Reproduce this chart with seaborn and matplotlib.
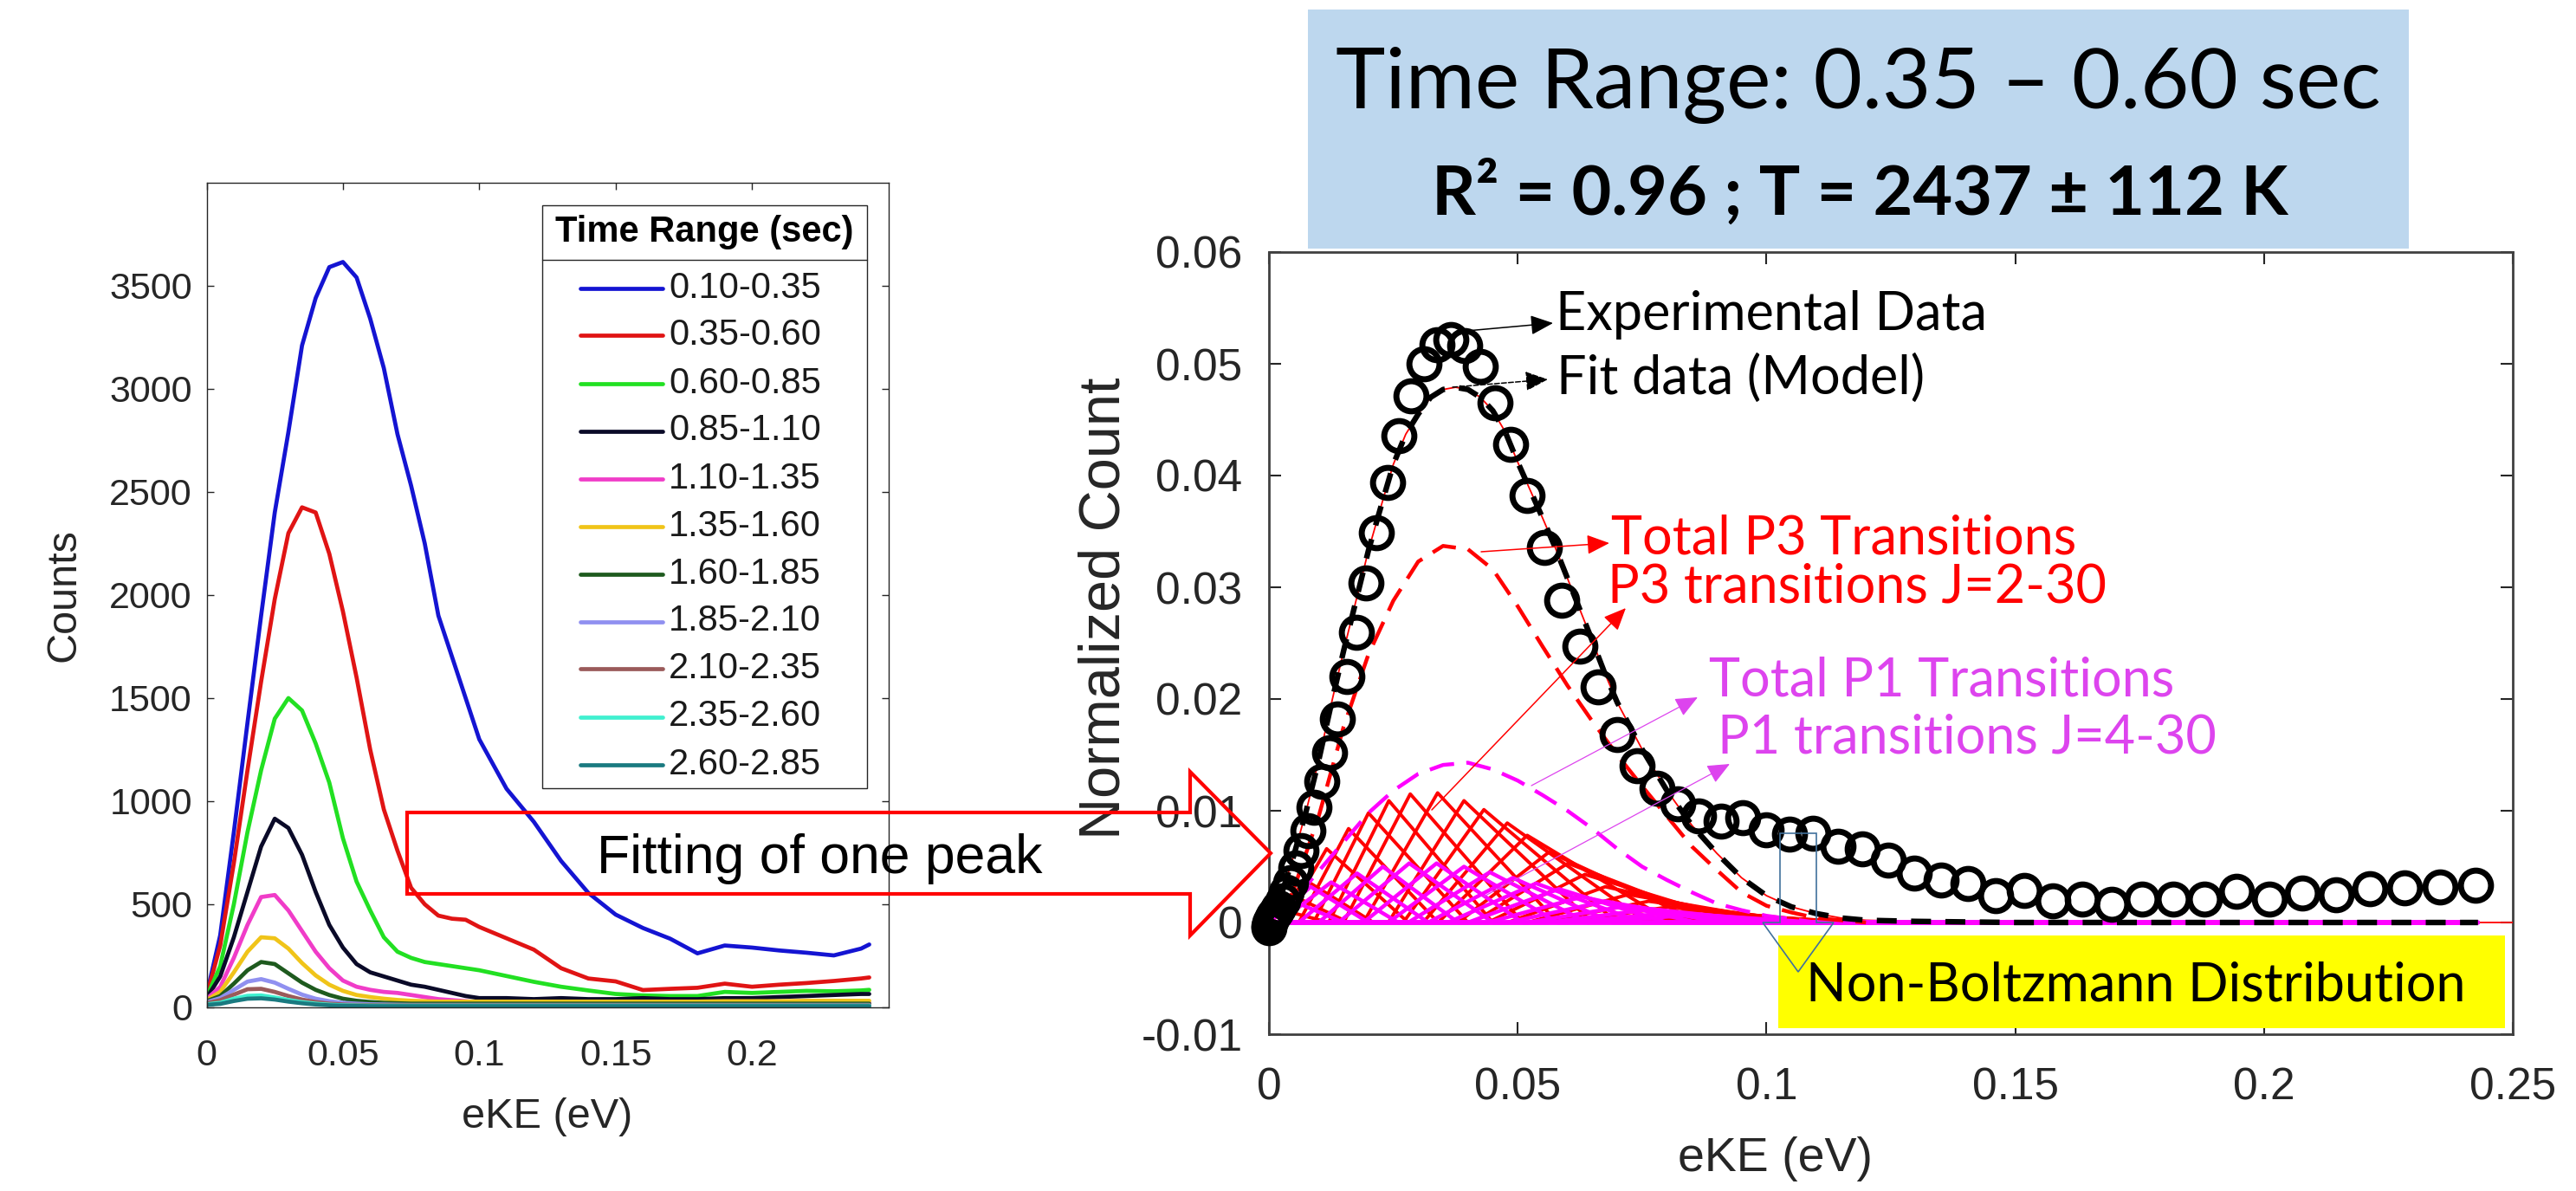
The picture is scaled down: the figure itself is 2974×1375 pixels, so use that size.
import numpy as np
import pandas as pd
import matplotlib
matplotlib.use('Agg')
import matplotlib.pyplot as plt
import seaborn as sns
from matplotlib.patches import Rectangle, Polygon, FancyArrowPatch
from matplotlib.lines import Line2D

W, H = 2974, 1375

# ---------------- left panel: raw counts per time window ----------------
eke_left = [0.000, 0.005, 0.010, 0.015, 0.020, 0.025, 0.030, 0.035, 0.040, 0.045,
            0.050, 0.055, 0.060, 0.065, 0.070, 0.075, 0.080, 0.085, 0.090, 0.095,
            0.100, 0.110, 0.120, 0.130, 0.140, 0.150, 0.160, 0.170, 0.180, 0.190,
            0.200, 0.210, 0.220, 0.230, 0.240, 0.243]
time_ranges = ['0.10-0.35', '0.35-0.60', '0.60-0.85', '0.85-1.10', '1.10-1.35', '1.35-1.60',
               '1.60-1.85', '1.85-2.10', '2.10-2.35', '2.35-2.60', '2.60-2.85']
c_010 = [60, 350, 850, 1380, 1900, 2400, 2790, 3210, 3440, 3590,
         3615, 3540, 3340, 3100, 2780, 2530, 2250, 1900, 1700, 1500,
         1300, 1060, 900, 710, 555, 450, 385, 333, 262, 300,
         290, 276, 265, 252, 285, 305]
c_035 = [55, 300, 700, 1150, 1580, 1980, 2300, 2425, 2400, 2200,
         1920, 1600, 1250, 960, 760, 580, 500, 445, 430, 425,
         390, 335, 280, 190, 140, 126, 84, 90, 95, 115,
         100, 110, 118, 128, 140, 145]
c_060 = [50, 200, 500, 850, 1150, 1400, 1500, 1440, 1280, 1090,
         820, 610, 470, 340, 270, 240, 220, 210, 200, 190,
         180, 152, 124, 100, 82, 65, 58, 55, 55, 75,
         70, 75, 80, 78, 82, 85]
c_085 = [45, 150, 340, 560, 780, 915, 870, 740, 560, 400,
         290, 210, 170, 150, 130, 110, 100, 85, 70, 55,
         45, 45, 40, 45, 40, 40, 45, 40, 40, 45,
         45, 50, 55, 60, 65, 65]
c_110 = [40, 100, 240, 400, 535, 545, 470, 370, 270, 190,
         130, 100, 85, 75, 70, 60, 50, 40, 35, 30,
         25, 22, 20, 20, 20, 20, 20, 20, 20, 20,
         20, 22, 22, 22, 22, 22]
c_135 = [35, 75, 170, 270, 340, 335, 285, 215, 155, 110,
         80, 60, 50, 42, 36, 32, 30, 28, 28, 28,
         28, 28, 28, 28, 28, 28, 28, 28, 28, 30,
         30, 30, 32, 32, 32, 32]
c_160 = [30, 55, 115, 180, 220, 210, 165, 120, 85, 60,
         42, 32, 26, 22, 20, 18, 18, 18, 18, 18,
         18, 18, 18, 18, 18, 18, 18, 18, 18, 18,
         18, 18, 18, 18, 18, 18]
c_185 = [25, 45, 85, 125, 137, 120, 90, 62, 42, 30,
         22, 18, 15, 14, 13, 12, 12, 12, 12, 12,
         12, 12, 12, 12, 12, 12, 12, 12, 12, 12,
         12, 12, 12, 12, 12, 12]
c_210 = [20, 35, 62, 88, 90, 75, 55, 38, 26, 18,
         14, 12, 11, 10, 10, 10, 10, 10, 10, 10,
         10, 10, 10, 10, 10, 10, 10, 10, 10, 10,
         10, 10, 10, 10, 10, 10]
c_235 = [15, 22, 42, 56, 58, 48, 36, 25, 18, 13,
         10, 9, 8, 8, 8, 8, 8, 8, 8, 8,
         8, 8, 8, 8, 8, 8, 8, 8, 8, 8,
         8, 8, 8, 8, 8, 8]
c_260 = [12, 17, 31, 42, 44, 38, 28, 20, 14, 10,
         8, 7, 6, 6, 6, 6, 6, 6, 6, 6,
         6, 6, 6, 6, 6, 6, 6, 6, 6, 6,
         6, 6, 6, 6, 6, 6]
left_counts = [c_010, c_035, c_060, c_085, c_110, c_135, c_160, c_185, c_210, c_235, c_260]
left_colors = ['#1414D2', '#E01414', '#22E022', '#0A0A28', '#F03CC8', '#F0C419',
               '#1E5A1E', '#9090F0', '#9A5A5A', '#40F0D0', '#1A7A80']
left_xticks = [0, 0.05, 0.1, 0.15, 0.2]
left_xticklabels = ['0', '0.05', '0.1', '0.15', '0.2']
left_yticks = [0, 500, 1000, 1500, 2000, 2500, 3000, 3500]

# ---------------- right panel: fit of the 0.35-0.60 s window ----------------
exp_e = [0, 0.00005, 0.0002, 0.0005, 0.0009, 0.0014, 0.0019, 0.0027, 0.0035, 0.0044,
         0.0054, 0.0065, 0.0078, 0.0091, 0.0106, 0.0122, 0.0138, 0.0156, 0.0175, 0.0195,
         0.0216, 0.0238, 0.0262, 0.0286, 0.0311, 0.0338, 0.0365, 0.0394, 0.0424, 0.0454,
         0.0486, 0.0519, 0.0553, 0.0588, 0.0625, 0.0662, 0.0700, 0.0740, 0.0780, 0.0822,
         0.0864, 0.0908, 0.0953, 0.0999, 0.1046, 0.1094, 0.1143, 0.1193, 0.1245, 0.1297,
         0.1351, 0.1405, 0.1461, 0.1518, 0.1575, 0.1634, 0.1694, 0.1755, 0.1817, 0.1881,
         0.1945, 0.2010, 0.2077, 0.2144, 0.2213, 0.2282, 0.2353, 0.2425]
exp_v = [-0.0005, -0.0003, 0.0000, 0.0003, 0.0006, 0.0009, 0.0013, 0.0019, 0.0027, 0.0036,
         0.0049, 0.0064, 0.0082, 0.0103, 0.0126, 0.0152, 0.0182, 0.0220, 0.0260, 0.0304,
         0.0349, 0.0394, 0.0436, 0.0471, 0.0500, 0.0517, 0.0522, 0.0516, 0.0498, 0.0465,
         0.0428, 0.0382, 0.0336, 0.0288, 0.0247, 0.0211, 0.0168, 0.0140, 0.0120, 0.0106,
         0.0095, 0.0091, 0.0094, 0.0083, 0.0079, 0.0080, 0.0068, 0.0066, 0.0056, 0.0044,
         0.0038, 0.0035, 0.0024, 0.0029, 0.0019, 0.0021, 0.0016, 0.0021, 0.0021, 0.0021,
         0.0028, 0.0021, 0.0026, 0.0025, 0.0030, 0.0031, 0.0032, 0.0033]

model_e = [0, 0.0025, 0.005, 0.0075, 0.01, 0.0125, 0.015, 0.0175, 0.02, 0.0225,
           0.025, 0.0275, 0.03, 0.0325, 0.035, 0.0375, 0.04, 0.0425, 0.045, 0.0475,
           0.05, 0.0525, 0.055, 0.0575, 0.06, 0.0625, 0.065, 0.0675, 0.07, 0.075,
           0.08, 0.085, 0.09, 0.095, 0.1, 0.105, 0.11, 0.115, 0.12, 0.13,
           0.15, 0.2, 0.243, 0.25]
model_v = [0, 0.0025, 0.0060, 0.0100, 0.0145, 0.0195, 0.0243, 0.0288, 0.0333, 0.0372,
           0.0410, 0.0437, 0.0455, 0.0470, 0.0477, 0.0479, 0.0477, 0.0470, 0.0458, 0.0439,
           0.0412, 0.0387, 0.0362, 0.0336, 0.0308, 0.0280, 0.0252, 0.0223, 0.0197, 0.0155,
           0.0118, 0.0087, 0.0062, 0.0040, 0.0024, 0.0014, 0.0008, 0.0004, 0.0002, 0.0001,
           0, 0, 0, 0]

p3_e = [0, 0.005, 0.01, 0.015, 0.02, 0.025, 0.03, 0.035, 0.04, 0.045, 0.05, 0.055, 0.06,
        0.065, 0.07, 0.075, 0.08, 0.085, 0.09, 0.095, 0.1, 0.105, 0.11, 0.115, 0.12]
p3_v = [0, 0.0030, 0.0095, 0.0175, 0.0240, 0.0288, 0.0323, 0.0337, 0.0334, 0.0316, 0.0283,
        0.0247, 0.0212, 0.0180, 0.0150, 0.0122, 0.0095, 0.0068, 0.0047, 0.0027, 0.0015,
        0.0009, 0.0004, 0.0002, 0.0]
p1_e = [0, 0.005, 0.01, 0.015, 0.02, 0.025, 0.03, 0.035, 0.04, 0.045, 0.05, 0.055,
        0.06, 0.065, 0.07, 0.075, 0.08, 0.085, 0.09, 0.095, 0.1, 0.105, 0.11]
p1_v = [0, 0.0020, 0.0046, 0.0072, 0.0098, 0.0118, 0.0133, 0.0141, 0.0143, 0.0137, 0.0127,
        0.0114, 0.0100, 0.0084, 0.0066, 0.0050, 0.0038, 0.0027, 0.0017, 0.0011, 0.0006,
        0.0003, 0.0]

# single P3 rotational lines (J=2-30): foot, peak, peak height, end
red_start_e = [0.0000, 0.0000, 0.0005, 0.0030, 0.0060, 0.0090, 0.0120, 0.0150, 0.0190, 0.0240,
               0.0270, 0.0310, 0.0340, 0.0380, 0.0410, 0.0440, 0.0480, 0.0520, 0.0550, 0.0590,
               0.0630, 0.0670, 0.0710]
red_peak_e = [0.0020, 0.0044, 0.0073, 0.0116, 0.0160, 0.0200, 0.0241, 0.0284, 0.0339, 0.0392,
              0.0432, 0.0479, 0.0519, 0.0563, 0.0601, 0.0635, 0.0676, 0.0722, 0.0763, 0.0805,
              0.0850, 0.0895, 0.0940]
red_peak_v = [0.0012, 0.0025, 0.0038, 0.0066, 0.0084, 0.0098, 0.0109, 0.0115, 0.0116, 0.0109,
              0.0101, 0.0089, 0.0078, 0.0063, 0.0053, 0.0043, 0.0032, 0.0025, 0.0019, 0.0014,
              0.0011, 0.0008, 0.0006]
red_end_e = [0.0120, 0.0160, 0.0210, 0.0280, 0.0340, 0.0400, 0.0450, 0.0510, 0.0580, 0.0650,
             0.0700, 0.0760, 0.0810, 0.0870, 0.0910, 0.0950, 0.1000, 0.1050, 0.1090, 0.1120,
             0.1150, 0.1180, 0.1200]
# single P1 rotational lines (J=4-30)
mag_start_e = [0.0000, 0.0000, 0.0020, 0.0060, 0.0100, 0.0140, 0.0190, 0.0240, 0.0280,
               0.0320, 0.0360, 0.0400, 0.0440, 0.0480, 0.0520, 0.0560, 0.0600, 0.0640]
mag_peak_e = [0.0044, 0.0084, 0.0125, 0.0177, 0.0229, 0.0282, 0.0337, 0.0392, 0.0444,
              0.0490, 0.0537, 0.0583, 0.0630, 0.0676, 0.0722, 0.0769, 0.0815, 0.0860]
mag_peak_v = [0.0020, 0.0032, 0.0036, 0.0044, 0.0050, 0.0053, 0.0053, 0.0050, 0.0045,
              0.0040, 0.0035, 0.0030, 0.0023, 0.0019, 0.0015, 0.0012, 0.0009, 0.0007]
mag_end_e = [0.0150, 0.0200, 0.0260, 0.0320, 0.0380, 0.0450, 0.0510, 0.0580, 0.0640,
             0.0690, 0.0750, 0.0800, 0.0860, 0.0910, 0.0960, 0.1020, 0.1060, 0.1100]
e_max = 0.243

right_xticks = [0, 0.05, 0.1, 0.15, 0.2, 0.25]
right_xticklabels = ['0', '0.05', '0.1', '0.15', '0.2', '0.25']
right_yticks = [-0.01, 0, 0.01, 0.02, 0.03, 0.04, 0.05, 0.06]
right_yticklabels = ['-0.01', '0', '0.01', '0.02', '0.03', '0.04', '0.05', '0.06']

sns.set_theme(style='white')
plt.rcParams['font.family'] = ['Liberation Sans', 'DejaVu Sans']
CAL = ['Lato', 'DejaVu Sans']
GREY = '#262626'

fig = plt.figure(figsize=(W / 100, H / 100), dpi=100)


def fx(x):
    return x / W


def fy(y):
    return 1 - y / H


def box(l, t, r, b):
    return [fx(l), fy(b), (r - l) / W, (b - t) / H]


ax1 = fig.add_axes(box(238.5, 210.8, 1025.6, 1163))
ax2 = fig.add_axes(box(1465, 291, 2901, 1194))

# ---- left panel
df_left = pd.concat([pd.DataFrame({'eKE': eke_left, 'Counts': vals, 'Time Range': name})
                     for name, vals in zip(time_ranges, left_counts)])
sns.lineplot(data=df_left, x='eKE', y='Counts', hue='Time Range',
             palette=dict(zip(time_ranges, left_colors)), lw=3.4,
             estimator=None, sort=False, legend=False, ax=ax1)
ax1.set_xlim(0, 0.25)
ax1.set_ylim(0, 4000)
ax1.set_xticks(left_xticks)
ax1.set_xticklabels(left_xticklabels)
ax1.set_yticks(left_yticks)
ax1.tick_params(direction='in', bottom=True, left=True, top=True, right=True,
                length=6, width=1, colors=GREY, labelsize=31)
ax1.tick_params(axis='x', pad=26)
ax1.tick_params(axis='y', pad=12)
for s in ax1.spines.values():
    s.set_color(GREY)
    s.set_linewidth(1.0)
ax1.set_xlabel('eKE (eV)', fontsize=35, color=GREY, va='center')
ax1.set_ylabel('Counts', fontsize=35, color=GREY, va='center')
ax1.xaxis.set_label_coords(0.5, -0.133)
ax1.yaxis.set_label_coords(-0.209, 0.5)

# hand-built MATLAB-like legend with a title cell
lg_l, lg_r, lg_t, lg_b, lg_sep = 626, 1001, 236.5, 910, 299.5
fig.add_artist(Rectangle((fx(lg_l), fy(lg_b)), (lg_r - lg_l) / W, (lg_b - lg_t) / H,
                         transform=fig.transFigure, fc='white', ec=GREY, lw=1.0, zorder=10))
fig.add_artist(Line2D([fx(lg_l), fx(lg_r)], [fy(lg_sep), fy(lg_sep)], color=GREY, lw=1.0,
                      transform=fig.transFigure, zorder=11))
fig.text(fx((lg_l + lg_r) / 2), fy(268), 'Time Range (sec)', ha='center', va='center',
         fontsize=30, fontweight='bold', color='black', zorder=11)
for i, (name, col) in enumerate(zip(time_ranges, left_colors)):
    yy = 332.5 + 55 * i
    fig.add_artist(Line2D([fx(670), fx(765)], [fy(yy), fy(yy)], color=col, lw=3.4,
                          transform=fig.transFigure, zorder=11))
    fig.text(fx(772), fy(yy), name, ha='left', va='center', fontsize=30, color='#1a1a1a', zorder=11)

# ---- right panel
df_red = pd.concat([pd.DataFrame({'eKE': [0, s, p, e, e_max], 'v': [0, 0, pv, 0, 0], 'J': i})
                    for i, (s, p, pv, e) in enumerate(zip(red_start_e, red_peak_e, red_peak_v, red_end_e))])
df_mag = pd.concat([pd.DataFrame({'eKE': [0, s, p, e, e_max], 'v': [0, 0, pv, 0, 0], 'J': i})
                    for i, (s, p, pv, e) in enumerate(zip(mag_start_e, mag_peak_e, mag_peak_v, mag_end_e))])
sns.lineplot(data=df_red, x='eKE', y='v', units='J', estimator=None, sort=False,
             color='#FF0000', lw=2.8, ax=ax2, zorder=2)
sns.lineplot(x=model_e, y=model_v, color='#FF0000', lw=1.3, sort=False, ax=ax2, zorder=3)
sns.lineplot(data=df_mag, x='eKE', y='v', units='J', estimator=None, sort=False,
             color='#FF00FF', lw=3.2, ax=ax2, zorder=4)
sns.lineplot(x=p3_e, y=p3_v, color='#FF0000', lw=3.2, linestyle=(0, (6.5, 3.2)), sort=False, ax=ax2, zorder=5)
sns.lineplot(x=p1_e, y=p1_v, color='#FF00FF', lw=3.2, linestyle=(0, (6.5, 3.2)), sort=False, ax=ax2, zorder=5)
sns.lineplot(x=model_e[:-1], y=model_v[:-1], color='black', lw=4.6, linestyle=(0, (3.6, 2.6)),
             sort=False, ax=ax2, zorder=6)
sns.lineplot(x=exp_e, y=exp_v, marker='o', markersize=25, markerfacecolor='none',
             markeredgecolor='black', markeredgewidth=5, linestyle='none',
             sort=False, ax=ax2, zorder=7, clip_on=False)
ax2.set_xlim(0, 0.25)
ax2.set_ylim(-0.01, 0.06)
ax2.set_xticks(right_xticks)
ax2.set_xticklabels(right_xticklabels)
ax2.set_yticks(right_yticks)
ax2.set_yticklabels(right_yticklabels)
ax2.tick_params(direction='in', bottom=True, left=True, top=True, right=True,
                length=10, width=1.5, colors=GREY, labelsize=37)
ax2.tick_params(axis='x', pad=27)
ax2.tick_params(axis='y', pad=22)
for s in ax2.spines.values():
    s.set_color('#404040')
    s.set_linewidth(2.0)
ax2.set_xlabel('eKE (eV)', fontsize=40, color=GREY, va='center')
ax2.set_ylabel('Normalized Count', fontsize=48, color=GREY, va='center')
ax2.xaxis.set_label_coords(0.407, -0.159)
ax2.yaxis.set_label_coords(-0.132, 0.545)

# ---- title box
fig.add_artist(Rectangle((fx(1510), fy(287)), (2781 - 1510) / W, (287 - 11) / H,
                         transform=fig.transFigure, fc='#BDD7EE', ec='none', zorder=1))
fig.text(fx(2145.5), fy(125), 'Time Range: 0.35 \u2013 0.60 sec', ha='center', va='baseline',
         fontsize=70, family=CAL, color='black')
fig.text(fx(2147.5), fy(248), 'R\u00b2 = 0.96 ; T = 2437 \u00b1 112 K', ha='center', va='baseline',
         fontsize=57, fontweight='bold', family=CAL, color='black')

# ---- annotations
ORCHID = '#DD44EE'
notes = [('Experimental Data', 1796, 381, 'black'),
         ('Fit data (Model)', 1797, 455, 'black'),
         ('Total P3 Transitions', 1860, 640, '#FF0000'),
         ('P3 transitions J=2-30', 1856, 696, '#FF0000'),
         ('Total P1 Transitions', 1973, 803, ORCHID),
         ('P1 transitions J=4-30', 1983, 870, ORCHID)]
for txt, x, y, col in notes:
    fig.text(fx(x), fy(y), txt, ha='left', va='baseline', fontsize=44, family=CAL, color=col, zorder=20)


def add_arrow(p0, p1, color, ls='-', lw=1.1):
    fig.add_artist(FancyArrowPatch((fx(p0[0]), fy(p0[1])), (fx(p1[0]), fy(p1[1])),
                                   transform=fig.transFigure, arrowstyle='-|>,head_length=16,head_width=7',
                                   mutation_scale=1, shrinkA=0, shrinkB=0, color=color,
                                   lw=lw, linestyle=ls, zorder=20))


add_arrow((1693, 382), (1793, 373), 'black')
add_arrow((1677, 447), (1787, 438), 'black', ls='--')
add_arrow((1710, 637), (1858, 627), '#FF0000')
add_arrow((1653, 935), (1877, 702), '#FF0000')
add_arrow((1768, 907), (1960, 805), ORCHID, lw=0.9)
add_arrow((1713, 1035), (1997, 882), ORCHID, lw=0.9)

# non-Boltzmann call-out
fig.add_artist(Rectangle((fx(2053), fy(1187)), (2892 - 2053) / W, (1187 - 1080) / H,
                         transform=fig.transFigure, fc='#FFFF00', ec='none', zorder=15))
fig.text(fx(2085), fy(1155), 'Non-Boltzmann Distribution', ha='left', va='baseline',
         fontsize=44, family=CAL, color='black', zorder=20)
down_arrow = [(2055, 962), (2097, 962), (2097, 1065), (2117, 1065), (2076, 1122), (2035, 1065), (2055, 1065)]
fig.add_artist(Polygon([(fx(x), fy(y)) for x, y in down_arrow], closed=True, fill=False,
                       ec='#41719C', lw=1.2, transform=fig.transFigure, zorder=18))

# big block arrow linking the two panels
block = [(470, 938), (1374, 938), (1374, 891), (1467, 985), (1374, 1080), (1374, 1032), (470, 1032)]
fig.add_artist(Polygon([(fx(x), fy(y)) for x, y in block], closed=True, fill=False,
                       ec='#FF0000', lw=3, transform=fig.transFigure, zorder=18))
fig.text(fx(946.5), fy(1008), 'Fitting of one peak', ha='center', va='baseline',
         fontsize=45, color='black', zorder=20)

fig.savefig('out.png', dpi=100)
